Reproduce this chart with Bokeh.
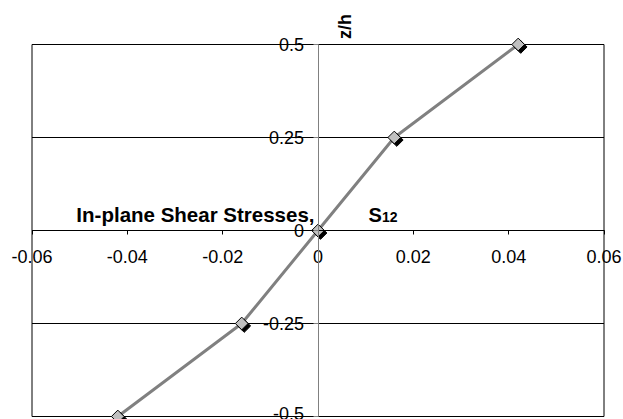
import math
from bokeh.plotting import figure
from bokeh.models import Range1d, FixedTicker, Label, ColumnDataSource
from bokeh.transform import dodge
from bokeh.embed import file_html
from bokeh.resources import INLINE

# Shear stress through the laminate thickness
z_over_h = [-0.5, -0.25, 0.0, 0.25, 0.5]
s12 = [-0.042, -0.016, 0.0, 0.016, 0.042]

x_ticks = [-0.06, -0.04, -0.02, 0.0, 0.02, 0.04, 0.06]
x_tick_labels = ["-0.06", "-0.04", "-0.02", "0", "0.02", "0.04", "0.06"]
y_ticks = [-0.5, -0.25, 0.0, 0.25, 0.5]
y_tick_labels = ["-0.5", "-0.25", "0", "0.25", "0.5"]

FONT = "Liberation Sans"
W, H = 623, 419
# plot box inside the canvas (pixels): left, right, top, bottom
BOX_L, BOX_R, BOX_T, BOX_B = 31.5, 603.5, 44, 416

x0, x1 = x_ticks[0], x_ticks[-1]
y0, y1 = y_ticks[0], y_ticks[-1]
kx = (x1 - x0) / (BOX_R - BOX_L)
ky = (y1 - y0) / (BOX_B - BOX_T)

# the frame covers the whole canvas so that labels outside the box are not clipped
p = figure(width=W, height=H, output_backend="svg", toolbar_location=None,
           x_range=Range1d(x0 - BOX_L * kx, x1 + (W - BOX_R) * kx),
           y_range=Range1d(y0 - (H - BOX_B) * ky, y1 + BOX_T * ky),
           min_border=0)
p.background_fill_color = "white"
p.border_fill_color = "white"
p.outline_line_color = None
p.grid.visible = False

# horizontal gridlines and the vertical edges of the plot box
p.segment(x0=[x0] * len(y_ticks), x1=[x1] * len(y_ticks), y0=y_ticks, y1=y_ticks,
          line_color="black", line_width=1, level="underlay")
p.segment(x0=[x0, x1], x1=[x0, x1], y0=[y0, y0], y1=[y1, y1],
          line_color="black", line_width=1, level="underlay")

# axes cross at the origin
xa = p.xaxis[0]
xa.fixed_location = 0
xa.bounds = (x0, x1)
xa.ticker = FixedTicker(ticks=x_ticks)
xa.major_label_overrides = {t: l for t, l in zip(x_ticks, x_tick_labels)}
xa.axis_line_color = "black"
xa.major_tick_line_color = "black"
xa.major_tick_in = 0
xa.major_tick_out = 4
xa.minor_tick_line_color = None
xa.major_label_standoff = 15
xa.major_label_text_font = FONT
xa.major_label_text_font_size = "18px"
xa.major_label_text_color = "black"

ya = p.yaxis[0]
ya.fixed_location = 0
ya.bounds = (y0, y1)
ya.ticker = FixedTicker(ticks=y_ticks)
ya.major_label_overrides = {t: l for t, l in zip(y_ticks, y_tick_labels)}
ya.axis_line_color = "#808080"
ya.major_tick_line_color = "#808080"
ya.major_tick_in = 0
ya.major_tick_out = 5
ya.minor_tick_line_color = None
ya.major_label_standoff = 9
ya.major_label_text_font = FONT
ya.major_label_text_font_size = "18px"
ya.major_label_text_color = "black"

src = ColumnDataSource(dict(x=s12, y=z_over_h))

p.line("x", "y", source=src, line_color="#808080", line_width=3)

# drop shadow behind each diamond marker
p.scatter(x=dodge("x", 2.5 * kx, range=p.x_range), y=dodge("y", -2.5 * ky, range=p.y_range),
          source=src, marker="square", angle=math.pi / 4, size=9,
          fill_color="black", line_color="black")
p.scatter("x", "y", source=src, marker="square", angle=math.pi / 4, size=9,
          fill_color="#c0c0c0", line_color="black", line_width=1)

# chart texts
p.add_layout(Label(x=0, y=0, x_offset=-3.5, y_offset=16.5, text="In-plane Shear Stresses,",
                   text_align="right", text_baseline="alphabetic", text_color="black",
                   text_font=FONT, text_font_style="bold", text_font_size="20.5px"))
p.add_layout(Label(x=0, y=0, x_offset=50.5, y_offset=15.2, text="S",
                   text_align="left", text_baseline="alphabetic", text_color="black",
                   text_font=FONT, text_font_style="bold", text_font_size="20px"))
p.add_layout(Label(x=0, y=0, x_offset=64, y_offset=13.4, text="12",
                   text_align="left", text_baseline="alphabetic", text_color="black",
                   text_font=FONT, text_font_style="bold", text_font_size="14px"))
p.add_layout(Label(x=0, y=y1, x_offset=27, y_offset=18, text="z/h", angle=math.pi / 2,
                   text_align="center", text_baseline="middle", text_color="black",
                   text_font=FONT, text_font_style="bold", text_font_size="18px"))

open("out.html", "w").write(file_html(p, INLINE))
